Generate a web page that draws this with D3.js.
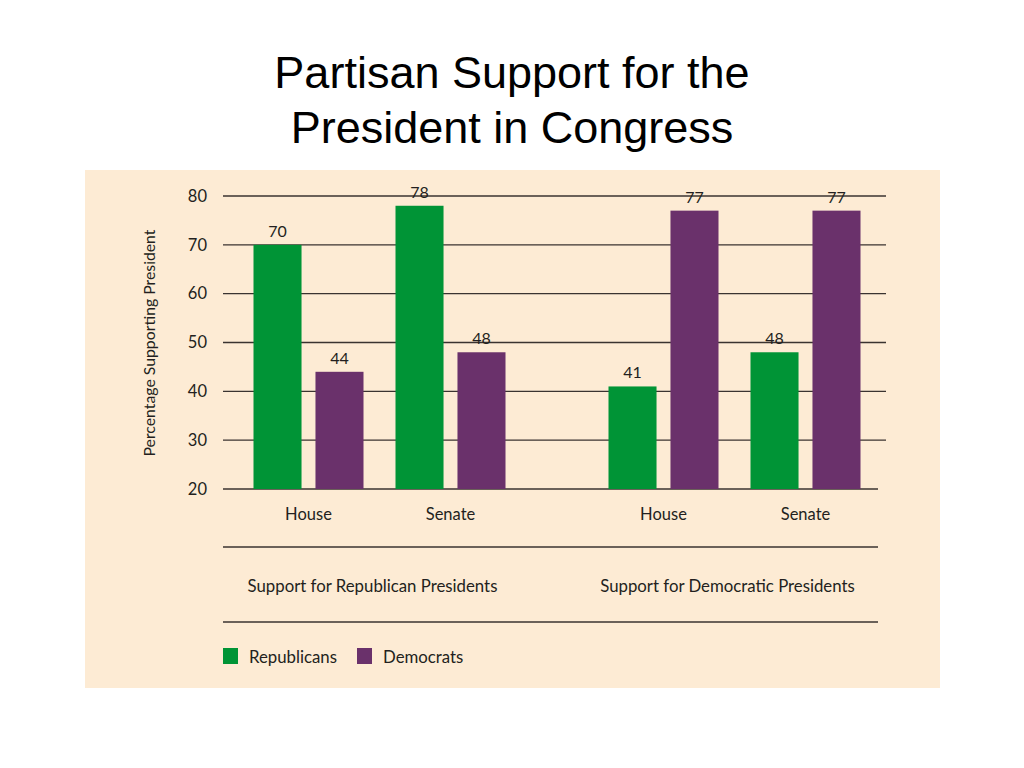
<!DOCTYPE html>
<html>
<head>
<meta charset="utf-8">
<script src="https://cdn.jsdelivr.net/npm/d3@7"></script>
<style>
  body { margin: 0; background: #fff; }
  svg text { fill: #231f20; }
  svg text.title { fill: #000; font-family: "Liberation Sans", Arial, Helvetica, sans-serif; }
</style>
</head>
<body>
<div id="chart"></div>
<script>
// chart data
const sections = ['Support for Republican Presidents', 'Support for Democratic Presidents'];
const chambers = ['House', 'Senate'];
const parties = ['Republicans', 'Democrats'];
const republicanValues = [70, 78, 41, 48];   // RepPres House, Senate, DemPres House, Senate
const democratValues = [44, 48, 77, 77];
const yTicks = [20, 30, 40, 50, 60, 70, 80];

const colors = { Republicans: '#009436', Democrats: '#6a316b' };

const rows = [];
sections.forEach((s, si) => {
    chambers.forEach((c, ci) => {
        const i = si * 2 + ci;
        rows.push({ section: s, chamber: c, party: 'Republicans', value: republicanValues[i] });
        rows.push({ section: s, chamber: c, party: 'Democrats', value: democratValues[i] });
    });
});

const svg = d3.select('#chart').append('svg')
    .attr('width', 1024)
    .attr('height', 768);

// title
const title = svg.append('text')
    .attr('class', 'title')
    .attr('text-anchor', 'middle')
    .style('font-size', '45px');
title.append('tspan').attr('x', 512).attr('y', 88).text('Partisan Support for the');
title.append('tspan').attr('x', 512).attr('y', 143).text('President in Congress');

// panel
svg.append('rect')
    .attr('x', 85).attr('y', 170)
    .attr('width', 855).attr('height', 518)
    .attr('fill', '#fdebd4');

const font = 'Lato, "Open Sans", sans-serif';

const y = d3.scaleLinear().domain([20, 80]).range([489, 196]);
const xSection = d3.scaleBand().domain(sections).range([202, 912]);
const xChamber = d3.scaleBand().domain(chambers).range([0, xSection.bandwidth()]).paddingOuter(0.25);
const xParty = d3.scaleBand().domain(parties).range([16, 126]).paddingInner(0.225);

const g = svg.append('g');

// gridlines
g.selectAll('line.grid')
    .data(yTicks)
    .join('line')
    .attr('class', 'grid')
    .attr('x1', 223)
    .attr('x2', d => d === 20 ? 878 : 886)
    .attr('y1', d => y(d))
    .attr('y2', d => y(d))
    .attr('stroke', '#3a3330')
    .attr('stroke-width', 1.4);

// y axis labels
g.selectAll('text.tick')
    .data(yTicks)
    .join('text')
    .attr('class', 'tick')
    .attr('x', 207)
    .attr('y', d => y(d))
    .attr('dy', '0.35em')
    .attr('text-anchor', 'end')
    .style('font-family', font)
    .style('font-size', '16.5px')
    .text(d => d);

svg.append('text')
    .attr('transform', 'translate(155,343) rotate(-90)')
    .attr('text-anchor', 'middle')
    .style('font-family', font)
    .style('font-size', '15.8px')
    .text('Percentage Supporting President');

const barX = d => xSection(d.section) + xChamber(d.chamber) + xParty(d.party);

// bars
g.selectAll('rect.bar')
    .data(rows)
    .join('rect')
    .attr('class', 'bar')
    .attr('x', barX)
    .attr('width', xParty.bandwidth())
    .attr('y', d => y(d.value))
    .attr('height', d => y(20) - y(d.value))
    .attr('fill', d => colors[d.party]);

// value labels
g.selectAll('text.val')
    .data(rows)
    .join('text')
    .attr('class', 'val')
    .attr('x', d => barX(d) + xParty.bandwidth() / 2)
    .attr('y', d => y(d.value) - 8)
    .attr('text-anchor', 'middle')
    .style('font-family', font)
    .style('font-size', '16px')
    .text(d => d.value);

// chamber labels
const chamberLabels = [];
sections.forEach(s => chambers.forEach(c => chamberLabels.push({ s, c })));
g.selectAll('text.chamber')
    .data(chamberLabels)
    .join('text')
    .attr('class', 'chamber')
    .attr('x', d => xSection(d.s) + xChamber(d.c) + xChamber.bandwidth() / 2)
    .attr('y', 520)
    .attr('text-anchor', 'middle')
    .style('font-family', font)
    .style('font-size', '16.5px')
    .text(d => d.c);

// separators
[547, 622].forEach(yy => {
    svg.append('line')
        .attr('x1', 223).attr('x2', 878)
        .attr('y1', yy).attr('y2', yy)
        .attr('stroke', '#3a3330')
        .attr('stroke-width', 1.4);
});

// section labels
g.selectAll('text.section')
    .data(sections)
    .join('text')
    .attr('class', 'section')
    .attr('x', d => xSection(d) + xSection.bandwidth() / 2 - 7)
    .attr('y', 592)
    .attr('text-anchor', 'middle')
    .style('font-family', font)
    .style('font-size', '16.8px')
    .text(d => d);

// legend
const legend = svg.append('g').attr('transform', 'translate(223,648)');
const legendX = [0, 134];
parties.forEach((p, i) => {
    const lg = legend.append('g').attr('transform', `translate(${legendX[i]},0)`);
    lg.append('rect').attr('width', 15).attr('height', 16).attr('fill', colors[p]);
    lg.append('text')
        .attr('x', 26).attr('y', 9)
        .attr('dy', '0.35em')
        .style('font-family', font)
        .style('font-size', '16.8px')
        .text(p);
});
</script>
</body>
</html>
